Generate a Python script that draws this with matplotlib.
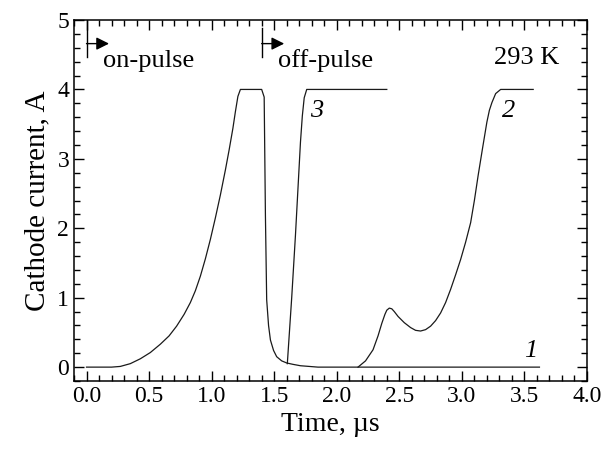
import matplotlib.pyplot as plt
from matplotlib.ticker import MultipleLocator

plt.rcParams['font.family'] = ['Liberation Serif', 'DejaVu Serif']

# curve 1: on-pulse, current switched off at ~1.4 us
t1 = [0.0, 0.11, 0.2, 0.27, 0.35, 0.43, 0.51, 0.59, 0.66, 0.72, 0.78, 0.83,
      0.87, 0.91, 0.95, 0.99, 1.03, 1.07, 1.11, 1.14, 1.17, 1.19, 1.21,
      1.23, 1.40, 1.42, 1.43, 1.44, 1.455, 1.47, 1.495, 1.52, 1.56, 1.60,
      1.65, 1.71, 1.85, 3.62]
i1 = [0.0, 0.0, 0.0, 0.01, 0.05, 0.12, 0.21, 0.33, 0.45, 0.59, 0.76, 0.93,
      1.1, 1.31, 1.56, 1.84, 2.15, 2.48, 2.84, 3.13, 3.44, 3.68, 3.9,
      4.0, 4.0, 3.89, 2.18, 0.97, 0.6, 0.39, 0.24, 0.15, 0.09, 0.06,
      0.04, 0.02, 0.0, 0.0]

# curve 2
t2 = [2.17, 2.23, 2.29, 2.33, 2.36, 2.385, 2.40, 2.42, 2.44, 2.46, 2.49,
      2.54, 2.59, 2.63, 2.67, 2.71, 2.75, 2.79, 2.83, 2.87, 2.91, 2.95,
      2.99, 3.03, 3.07, 3.10, 3.13, 3.165, 3.20, 3.22, 3.24, 3.27, 3.31,
      3.57]
i2 = [0.0, 0.09, 0.25, 0.45, 0.63, 0.76, 0.82, 0.85, 0.84, 0.8, 0.73,
      0.64, 0.57, 0.53, 0.52, 0.54, 0.59, 0.67, 0.78, 0.93, 1.12, 1.33,
      1.55, 1.8, 2.08, 2.4, 2.76, 3.15, 3.53, 3.7, 3.81, 3.94, 4.0,
      4.0]

# curve 3
t3 = [1.605, 1.64, 1.67, 1.71, 1.725, 1.74, 1.76, 2.40]
i3 = [0.05, 1.0, 1.9, 3.24, 3.62, 3.88, 4.0, 4.0]

fig = plt.figure(figsize=(6.11, 4.58), dpi=100)
ax = fig.add_axes([0.1211, 0.1681, 0.8396, 0.7882])

for t, i in [(t1, i1), (t2, i2), (t3, i3)]:
    ax.plot(t, i, color='#1a1a1a', lw=0.9)

ax.set_xlim(-0.1, 4.0)
ax.set_ylim(-0.2, 5.0)
ax.xaxis.set_major_locator(MultipleLocator(0.5))
ax.xaxis.set_minor_locator(MultipleLocator(0.1))
ax.yaxis.set_major_locator(MultipleLocator(1))
ax.yaxis.set_minor_locator(MultipleLocator(0.2))
ax.xaxis.set_major_formatter(plt.FormatStrFormatter('%.1f'))
ax.tick_params(which='both', direction='in', top=True, right=True,
               labelsize=17, width=1.0)
ax.tick_params(which='major', length=7)
ax.tick_params(which='minor', length=4)
for s in ax.spines.values():
    s.set_linewidth(1.1)

ax.set_xlabel('Time, µs', fontsize=20, labelpad=4)
ax.set_ylabel('Cathode current, A', fontsize=21, labelpad=5)

# pulse markers
ax.plot([0.0, 0.0], [5.0, 4.47], color='k', lw=1.0)
ax.annotate('', xy=(0.18, 4.66), xytext=(0.0, 4.66),
            arrowprops=dict(arrowstyle='-|>', color='k', lw=1.0,
                            mutation_scale=19, shrinkA=0, shrinkB=0))
ax.text(0.13, 4.32, 'on-pulse', fontsize=19, va='baseline')

ax.plot([1.40, 1.40], [4.88, 4.47], color='k', lw=1.0)
ax.annotate('', xy=(1.58, 4.66), xytext=(1.40, 4.66),
            arrowprops=dict(arrowstyle='-|>', color='k', lw=1.0,
                            mutation_scale=19, shrinkA=0, shrinkB=0))
ax.text(1.53, 4.32, 'off-pulse', fontsize=19, va='baseline')

ax.text(3.52, 4.36, '293 K', fontsize=19, va='baseline', ha='center')

ax.text(3.55, 0.14, '1', fontsize=19, style='italic', va='baseline', ha='center')
ax.text(3.37, 3.6, '2', fontsize=19, style='italic', va='baseline', ha='center')
ax.text(1.84, 3.6, '3', fontsize=19, style='italic', va='baseline', ha='center')

fig.savefig('out.png', dpi=100)
